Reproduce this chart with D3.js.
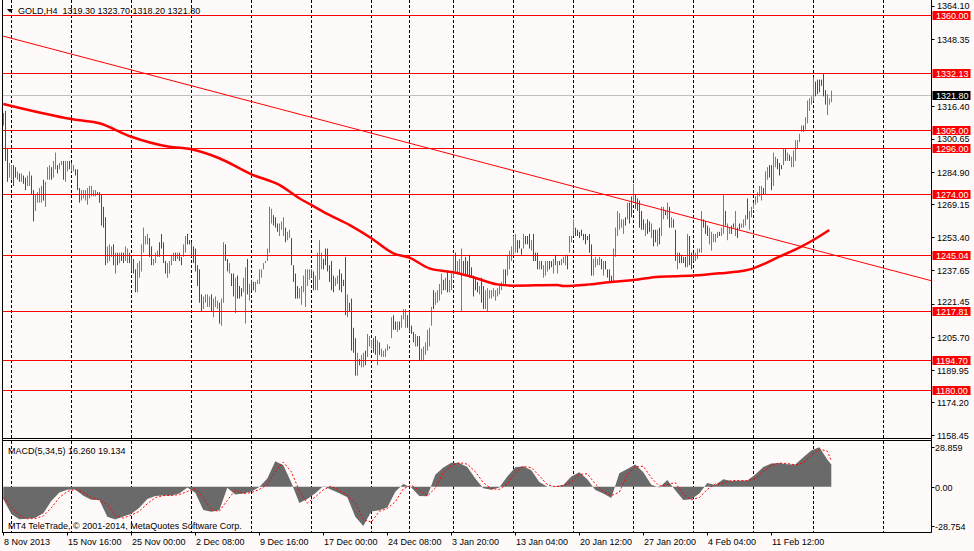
<!DOCTYPE html>
<html>
<head>
<meta charset="utf-8">
<script src="https://cdn.jsdelivr.net/npm/d3@7"></script>
<style>
  html, body { margin: 0; padding: 0; background: #fffafa; }
  svg { display: block; font-family: "Liberation Sans", Arial, sans-serif; font-size: 9px; }
</style>
</head>
<body>
<svg id="chart" width="974" height="551"></svg>
<script>
// GOLD H4 bars, 8 Nov 2013 08:00 .. 18 Feb 2014 (one bar per 4 hours)
const barHigh = [
  1313,1314,1296,1289,1288,1288,1287,1285,1284,1284,
  1283,1282,1283,1285,1283,1276,1274,1275,1277,1278,
  1281,1280,1287,1288,1287,1290,1294,1288,1289,1290,
  1290,1290,1290,1290,1289,1288,1286,1286,1277,1276,
  1276,1276,1277,1278,1278,1276,1276,1275,1275,1274,
  1268,1263,1249,1250,1249,1250,1246,1246,1246,1246,
  1246,1249,1248,1246,1244,1243,1238,1241,1242,1250,
  1258,1254,1255,1253,1249,1243,1246,1247,1251,1255,
  1251,1242,1241,1242,1245,1246,1246,1246,1246,1244,
  1250,1254,1255,1252,1251,1249,1248,1240,1238,1226,
  1225,1226,1226,1225,1226,1224,1225,1223,1222,1224,
  1251,1250,1243,1241,1236,1236,1234,1235,1230,1229,
  1234,1239,1243,1231,1233,1232,1232,1233,1238,1238,
  1241,1242,1248,1268,1267,1264,1263,1260,1260,1261,
  1263,1258,1256,1257,1253,1240,1236,1230,1229,1230,
  1235,1238,1238,1238,1238,1237,1235,1246,1252,1246,
  1243,1248,1248,1240,1242,1235,1234,1235,1238,1236,
  1233,1244,1226,1222,1224,1210,1205,1198,1195,1197,
  1198,1199,1207,1206,1204,1205,1206,1204,1203,1200,
  1199,1200,1202,1201,1215,1216,1213,1213,1213,1216,
  1219,1219,1216,1218,1211,1208,1207,1206,1206,1200,
  1201,1203,1209,1210,1220,1228,1227,1228,1231,1236,
  1233,1234,1237,1233,1236,1245,1246,1242,1243,1248,
  1242,1244,1242,1245,1239,1235,1234,1232,1230,1234,
  1230,1228,1229,1228,1228,1229,1228,1229,1231,1232,
  1238,1238,1245,1247,1249,1254,1255,1252,1252,1248,
  1255,1254,1254,1255,1252,1255,1246,1246,1242,1242,
  1240,1242,1242,1242,1242,1243,1245,1242,1242,1243,
  1244,1245,1245,1254,1254,1262,1258,1257,1256,1257,
  1255,1255,1254,1255,1250,1243,1244,1243,1244,1243,
  1242,1242,1238,1238,1235,1248,1258,1266,1265,1262,
  1262,1263,1270,1270,1273,1279,1274,1272,1271,1266,
  1262,1260,1262,1261,1260,1257,1257,1257,1258,1268,
  1268,1266,1270,1268,1263,1262,1257,1246,1246,1245,
  1244,1244,1255,1254,1246,1246,1246,1248,1248,1266,
  1262,1261,1259,1258,1256,1255,1255,1256,1256,1258,
  1274,1266,1260,1258,1259,1260,1266,1258,1260,1260,
  1262,1264,1272,1266,1268,1270,1273,1275,1278,1278,
  1277,1285,1287,1288,1288,1294,1292,1291,1289,1288,
  1296,1296,1294,1293,1292,1295,1300,1300,1303,1307,
  1307,1311,1319,1320,1321,1330,1328,1329,1329,1329,
  1332.1,1324,1322,1320,1323.7
];
const barLow = [
  1307,1290,1280,1282,1281,1278,1282,1281,1280,1280,
  1279,1276,1278,1278,1274,1261,1266,1270,1270,1270,
  1271,1268,1281,1281,1281,1282,1286,1284,1286,1288,
  1281,1280,1285,1286,1285,1285,1283,1276,1270,1271,
  1272,1271,1269,1272,1273,1273,1273,1274,1270,1259,
  1258,1240,1241,1242,1244,1240,1236,1240,1241,1242,
  1241,1242,1241,1241,1237,1236,1227,1227,1234,1237,
  1246,1250,1250,1244,1240,1240,1241,1244,1244,1248,
  1241,1236,1234,1236,1240,1242,1242,1243,1242,1240,
  1244,1246,1250,1250,1244,1241,1237,1230,1222,1218,
  1219,1222,1220,1220,1218,1215,1220,1219,1212,1211,
  1222,1242,1237,1236,1230,1225,1217,1224,1224,1225,
  1227,1212,1226,1223,1228,1228,1227,1231,1231,1234,
  1238,1241,1242,1246,1260,1259,1258,1256,1254,1257,
  1254,1251,1252,1253,1240,1232,1224,1224,1224,1221,
  1227,1220,1230,1233,1234,1228,1228,1228,1233,1238,
  1238,1240,1237,1232,1228,1227,1230,1231,1228,1227,
  1230,1216,1215,1218,1199,1198,1187,1187,1192,1191,
  1191,1192,1196,1201,1200,1198,1197,1192,1197,1196,
  1196,1196,1199,1200,1205,1209,1209,1208,1209,1210,
  1214,1210,1210,1208,1207,1203,1201,1201,1194,1194,
  1194,1197,1199,1201,1211,1219,1221,1222,1223,1226,
  1228,1228,1227,1227,1228,1234,1237,1236,1236,1218,
  1236,1235,1235,1234,1234,1225,1228,1227,1226,1222,
  1219,1219,1218,1224,1224,1225,1223,1225,1226,1228,
  1230,1230,1235,1238,1242,1245,1246,1246,1248,1245,
  1248,1250,1250,1248,1247,1242,1242,1238,1238,1238,
  1234,1235,1237,1238,1239,1236,1240,1236,1240,1240,
  1241,1240,1238,1246,1251,1254,1254,1254,1253,1254,
  1252,1250,1252,1246,1235,1235,1239,1240,1240,1238,
  1235,1238,1234,1232,1232,1232,1244,1254,1257,1258,
  1255,1259,1262,1260,1263,1270,1267,1266,1258,1257,
  1257,1254,1255,1256,1253,1249,1251,1249,1250,1254,
  1262,1264,1262,1258,1258,1258,1242,1238,1241,1241,
  1241,1239,1239,1240,1238,1242,1242,1243,1246,1246,
  1258,1255,1254,1250,1247,1251,1251,1253,1254,1254,
  1255,1259,1252,1255,1255,1258,1254,1253,1257,1258,
  1258,1259,1262,1257,1263,1267,1269,1270,1273,1271,
  1274,1274,1281,1282,1276,1278,1287,1286,1283,1286,
  1288,1290,1290,1290,1287,1287,1290,1296,1299,1304,
  1304,1305,1308,1314,1317,1319,1321,1322,1323,1326,
  1321,1317,1312,1317,1318.2
];
// u = close above open (blue), d = close below open (red)
const barDir = (
  "udduuddudu dduudduuuu duuuduuduu duuduudddu uuuuuuuddd " +
  "dduuududud duudddduuu uuudduuudd dduuuududd uudddddddd " +
  "uuuuduuudu uddudduddd uududduuuu uuuuuddduu uduudddduu " +
  "uuuudduuuu dddddduudd dduddddudu uduuuddudu uuududdudu " +
  "uudddduddu uuuuuduuuu duduuuduuu ddddddddud duuuuuuuuu " +
  "uduuuuuddd udddudddud uuuddududu uuduuudddd ddddduuuud " +
  "udddduuuuu ududdudddd dudduddudu udududdudd dduddduuuu " +
  "ddduuuuudu uduudduddu uuduuuuuuu duudduuddd ududuuuuuu " +
  "duuuuudddd dduuu"
).replace(/ /g, "").split("");

// moving average (thick red line): [bar, price]
const maPoints = [
  [0,1317.3],[34,1310.1],[48,1308.1],[64,1301.6],[83,1296.8],[94,1295.6],[108,1291.3],
  [124,1283.6],[138,1278.5],[148,1272.1],[154,1268.9],[163,1264.1],[173,1259.3],[184,1252.9],
  [195,1245.7],[203,1243.6],[213,1238.5],[225,1236.6],[235,1234.2],[247,1230.8],[255,1230.2],
  [277,1230.5],[280,1230.0],[293,1230.8],[305,1232.1],[315,1232.9],[328,1234.5],[345,1235.0],
  [358,1236.1],[372,1237.7],[375,1238.5],[388,1244.1],[398,1248.4],[405,1252.1],[413,1256.9]
];
// descending trendline: [bar, price]
const trendPoints = [[-1, 1350.1], [465, 1232.3]];

const levels = [1360.00, 1332.13, 1305.00, 1296.00, 1274.00, 1245.04, 1217.81, 1194.70, 1180.00];
const lastPrice = 1321.80;
const priceTicks = [1364.10, 1348.35, 1316.40, 1300.65, 1284.90, 1269.15, 1253.40, 1237.65,
                    1221.45, 1205.70, 1189.95, 1174.20, 1158.45];

// MACD(5,34,5), sampled every 4 bars, last value is the final bar
const macdHist = [
  -9,-20,-23.8,-23.5,-22.8,-19.5,-10.5,-4.2,-2.2,-2.0,
  -6.7,-9.5,-9.7,-22,-24,-21.9,-19.9,-15.5,-9,-6.8,
  -6.4,-6.5,-5,-0.5,-4.5,-17,-18.3,-17.3,-0.8,-5.8,
  -4.9,-3.5,-0.3,6,18.6,15.8,3,-12,-9,-4.8,
  0.5,-2.2,-4.8,-7.8,-22,-28.7,-18.2,-17.2,-15.2,-3.7,
  2.0,-0.5,-6.8,-7.0,8.8,14,17.6,17.3,14.5,6,
  -1.2,-2.3,-0.5,7.5,14.3,14.9,12,3.5,0,0.4,
  1.2,7.5,10.5,5.5,-2.5,-5,-8.3,9.8,13,16.3,
  10.5,1.5,-0.5,5,-2.6,-9.7,-9.2,-5,2.7,1.2,
  5.4,4.2,4.4,4.5,9,14.5,17,17.4,16.5,16.3,
  21.5,26.5,28.86,20,16.26
];
const macdSignal = [
  -8,-15,-21,-23.5,-23.3,-21.5,-15.5,-8,-3.5,-2,
  -4,-8,-9.7,-13,-21,-23,-20.8,-18,-12.5,-8,
  -6.5,-6.4,-5.8,-3.5,-1.5,-8,-17,-18,-10,-2.5,
  -5,-4.3,-2,1.5,11,18,11,-3,-12,-7.5,
  -2.3,0.5,-3,-6.2,-12,-24,-26,-18,-16,-11,
  -1.5,1,-2.5,-6.8,-1,10,15.5,17.7,16.5,11,
  3,-1.5,-2,2,10.5,14.8,14,8,1.5,0,
  0.8,3.5,9,9.5,2,-3.5,-6.5,-4,9,14.5,
  15,6.5,0.5,1.5,3,-5.5,-9.5,-8,-2,2,
  2.5,4.5,4.5,4.4,6,11,15.5,17.3,17,16,
  17.5,23,27.5,26,19.134
];
const macdTicks = [28.859, 0, -28.754];
const macdTickText = ["28.859", "0.00", "-28.754"];

// time axis: label every 32 bars, week separators
const timeLabels = ["8 Nov 2013", "15 Nov 16:00", "25 Nov 00:00", "2 Dec 08:00", "9 Dec 16:00",
  "17 Dec 00:00", "24 Dec 08:00", "3 Jan 20:00", "13 Jan 04:00", "20 Jan 12:00",
  "27 Jan 20:00", "4 Feb 04:00", "11 Feb 12:00"];
const weekBars = [4, 34, 64, 94, 124, 154, 184, 203, 225, 255, 285, 315, 345, 375, 405, 440];

const header = "GOLD,H4  1319.30 1323.70 1318.20 1321.80";
const macdHeader = "MACD(5,34,5) 16.260 19.134";
const copyright = "MT4 TeleTrade, \u00a9 2001-2014, MetaQuotes Software Corp.";

// ---- layout ----
const BG = "#fffafa", RED = "#ff0000", BLUE = "#1e90ff", HIST = "#6a6a6a";
const L = 2, R = 931.5, mainTop = 0, mainBot = 438.5, macdTop = 441, macdBot = 532.5;
const TAG_H = 9;

const svg = d3.select("#chart");
svg.append("rect").attr("width", 974).attr("height", 551).attr("fill", BG);

const x = d3.scaleLinear().domain([0, barHigh.length - 1]).range([3.3, 3.3 + 2 * (barHigh.length - 1)]);
const y = d3.scaleLinear().domain([1157.12, 1367.19]).range([438, 0]);
const ym = d3.scaleLinear().domain([-33.70, 33.48]).range([532.7, 441]);
const px = v => Math.round(v) + 0.5;

const defs = svg.append("defs");
defs.append("clipPath").attr("id", "clipMain").append("rect")
  .attr("x", L).attr("y", mainTop).attr("width", R - L).attr("height", mainBot - mainTop);
defs.append("clipPath").attr("id", "clipMacd").append("rect")
  .attr("x", L).attr("y", macdTop).attr("width", R - L).attr("height", macdBot - macdTop);

// vertical week grid, both panels
const grid = svg.append("g").attr("stroke", "#000").attr("stroke-dasharray", "3,2");
weekBars.forEach(b => {
  const gx = px(x(b));
  grid.append("line").attr("x1", gx).attr("x2", gx).attr("y1", mainTop).attr("y2", mainBot);
  grid.append("line").attr("x1", gx).attr("x2", gx).attr("y1", macdTop).attr("y2", macdBot);
});

// ---- main panel ----
const main = svg.append("g").attr("clip-path", "url(#clipMain)");

main.append("line").attr("x1", L).attr("x2", R)
  .attr("y1", px(y(lastPrice))).attr("y2", px(y(lastPrice)))
  .attr("stroke", "#c0c0c0");

main.append("g").selectAll("line").data(d3.range(barHigh.length)).join("line")
  .attr("x1", i => px(x(i))).attr("x2", i => px(x(i)))
  .attr("y1", i => y(barHigh[i]))
  .attr("y2", i => Math.max(y(barLow[i]), y(barHigh[i]) + 1))
  .attr("stroke", i => barDir[i] === "u" ? BLUE : RED)
  .attr("stroke-width", 1);

main.append("path").datum(maPoints)
  .attr("d", d3.line().x(d => x(d[0])).y(d => y(d[1])).curve(d3.curveMonotoneX))
  .attr("fill", "none").attr("stroke", RED).attr("stroke-width", 2.5);

main.append("g").selectAll("line").data(levels).join("line")
  .attr("x1", L).attr("x2", R)
  .attr("y1", d => px(y(d))).attr("y2", d => px(y(d)))
  .attr("stroke", RED);

main.append("path").datum(trendPoints)
  .attr("d", d3.line().x(d => x(d[0])).y(d => y(d[1])))
  .attr("fill", "none").attr("stroke", RED).attr("stroke-width", 1);

// header
svg.append("path").attr("d", "M7,9 L13,9 L10,12.5 Z").attr("fill", "#000");
svg.append("text").attr("x", 18).attr("y", 14).attr("fill", "#000")
  .attr("xml:space", "preserve").text(header);

// ---- MACD panel ----
const macdIdx = d3.range(0, barHigh.length - 1, 4).concat([barHigh.length - 1]);
const mac = svg.append("g").attr("clip-path", "url(#clipMacd)");
mac.append("path").datum(macdHist)
  .attr("d", d3.area().x((d, k) => x(macdIdx[k])).y0(ym(0)).y1(d => ym(d)))
  .attr("fill", HIST);
mac.append("path").datum(macdSignal)
  .attr("d", d3.line().x((d, k) => x(macdIdx[k])).y(d => ym(d)))
  .attr("fill", "none").attr("stroke", RED).attr("stroke-width", 1)
  .attr("stroke-dasharray", "2,2");

svg.append("text").attr("x", 8).attr("y", 454).attr("fill", "#000").text(macdHeader);
svg.append("text").attr("x", 8).attr("y", 529).attr("fill", "#000").text(copyright);

// ---- frames ----
const frame = svg.append("g").attr("stroke", "#000").attr("fill", "none");
frame.append("line").attr("x1", 2.5).attr("x2", 2.5).attr("y1", 0).attr("y2", macdBot);
frame.append("line").attr("x1", R).attr("x2", R).attr("y1", 0).attr("y2", macdBot);
frame.append("line").attr("x1", L).attr("x2", R).attr("y1", mainBot).attr("y2", mainBot);
frame.append("line").attr("x1", L).attr("x2", R).attr("y1", macdTop - 0.5).attr("y2", macdTop - 0.5);
frame.append("line").attr("x1", L).attr("x2", R).attr("y1", macdBot).attr("y2", macdBot);

// ---- right price axis ----
const ax = svg.append("g");
const minGap = 9.5;
priceTicks.forEach(t => {
  const ty = px(y(t));
  // keep the tick text clear of a level tag that sits right next to it
  let textY = ty;
  levels.forEach(v => {
    const ly = px(y(v));
    if (Math.abs(textY - ly) < minGap) textY = ly + (textY < ly ? -minGap : minGap);
  });
  ax.append("line").attr("x1", R).attr("x2", R + 3).attr("y1", ty).attr("y2", ty).attr("stroke", "#000");
  ax.append("text").attr("x", 937).attr("y", textY + 3).attr("fill", "#000").text(t.toFixed(2));
});
levels.forEach(v => {
  const ty = px(y(v));
  ax.append("rect").attr("x", R + 1).attr("y", ty - TAG_H / 2).attr("width", 38).attr("height", TAG_H).attr("fill", RED);
  ax.append("text").attr("x", 936).attr("y", ty + 3.2).attr("fill", "#fff").text(v.toFixed(2));
});
{
  const ty = px(y(lastPrice));
  ax.append("rect").attr("x", R + 1).attr("y", ty - TAG_H / 2).attr("width", 38).attr("height", TAG_H).attr("fill", "#000");
  ax.append("text").attr("x", 936).attr("y", ty + 3.2).attr("fill", "#fff").text(lastPrice.toFixed(2));
}
macdTicks.forEach((t, k) => {
  const ty = px(ym(t));
  ax.append("line").attr("x1", R).attr("x2", R + 3).attr("y1", ty).attr("y2", ty).attr("stroke", "#000");
  ax.append("text").attr("x", 935).attr("y", ty + 3.5).attr("fill", "#000").text(macdTickText[k]);
});

// ---- time axis ----
timeLabels.forEach((s, k) => {
  const tx = px(x(32 * k));
  ax.append("line").attr("x1", tx).attr("x2", tx).attr("y1", macdBot).attr("y2", macdBot + 3).attr("stroke", "#000");
  ax.append("text").attr("x", tx + 0.5).attr("y", 545).attr("fill", "#000").text(s);
});
</script>
</body>
</html>
